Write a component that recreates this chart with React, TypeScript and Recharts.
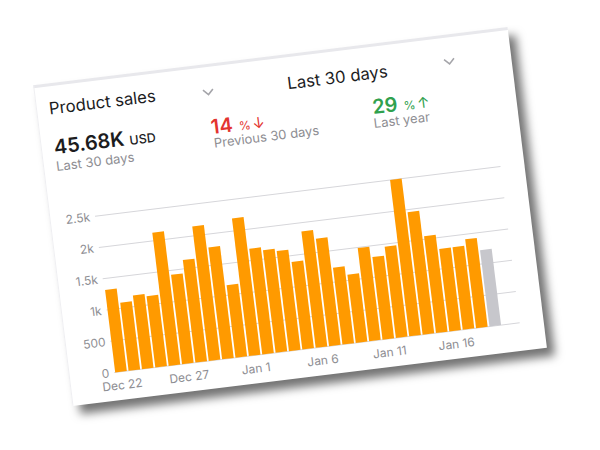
import React from 'react';
import { BarChart, Bar, XAxis, YAxis, CartesianGrid, Cell } from 'recharts';

// daily sales, Dec 22 - Jan 19 (last day is still in progress -> grey)
const days = [
  'Dec 22', 'Dec 23', 'Dec 24', 'Dec 25', 'Dec 26', 'Dec 27', 'Dec 28', 'Dec 29', 'Dec 30', 'Dec 31',
  'Jan 1', 'Jan 2', 'Jan 3', 'Jan 4', 'Jan 5', 'Jan 6', 'Jan 7', 'Jan 8', 'Jan 9', 'Jan 10',
  'Jan 11', 'Jan 12', 'Jan 13', 'Jan 14', 'Jan 15', 'Jan 16', 'Jan 17', 'Jan 18', 'Jan 19',
];
const sales = [
  1320, 1090, 1180, 1140, 2130, 1430, 1640, 2150, 1790, 1160,
  2200, 1690, 1640, 1600, 1400, 1860, 1720, 1230, 1090, 1490,
  1320, 1460, 2500, 1960, 1550, 1320, 1320, 1420, 1220,
];
const yTicks = [0, 500, 1000, 1500, 2000, 2500];
const yTickLabels = ['0', '500', '1k', '1.5k', '2k', '2.5k'];

const data = days.map((day, i) => ({ day, sales: sales[i] }));

const ORANGE = '#FF9A00';
const GREY_BAR = '#C7C7CC';
const GREY_TEXT = '#8E8E93';
const FONT = 'Inter, "Noto Sans", sans-serif';

const Chevron = ({ left, top }: { left: number; top: number }) => (
  <svg width={12} height={8} style={{ position: 'absolute', left, top }}>
    <polyline points="1,1.5 6,6.5 11,1.5" fill="none" stroke="#A5A5AA" strokeWidth={1.6} />
  </svg>
);

const App: React.FC = () => {
  const last = data.length - 1;

  return (
    <div style={{ position: 'fixed', left: 0, top: 0, width: 600, height: 450, background: '#fff', overflow: 'hidden' }}>
      <div
        style={{
          position: 'absolute',
          left: 51,
          top: 55,
          width: 478,
          height: 323,
          background: '#fff',
          transform: 'rotate(-7deg)',
          boxShadow: '7px 9px 10px rgba(0,0,0,0.55)',
          fontFamily: FONT,
          color: '#1C1C1E',
        }}
      >
        <div style={{ position: 'absolute', left: 0, top: 0, width: 478, height: 3, background: '#E8E8EC' }} />
        <div style={{ position: 'absolute', left: 0, top: 0, width: 1, height: 323, background: '#EFEFF2' }} />

        {/* header */}
        <div style={{ position: 'absolute', left: 13, top: 14.5, fontSize: 16.7, lineHeight: '20px' }}>Product sales</div>
        <Chevron left={167} top={23.5} />
        <div style={{ position: 'absolute', left: 203, top: 18.5, width: 200, textAlign: 'center', fontSize: 16.7, lineHeight: '20px' }}>
          Last 30 days
        </div>
        <Chevron left={410} top={22.5} />

        {/* stats */}
        <div style={{ position: 'absolute', left: 13, top: 52, lineHeight: '24px', whiteSpace: 'nowrap' }}>
          <span style={{ fontSize: 20, fontWeight: 600 }}>45.68K</span>
          <span style={{ fontSize: 12.5, fontWeight: 500, marginLeft: 5 }}>USD</span>
        </div>
        <div style={{ position: 'absolute', left: 13, top: 74.5, fontSize: 13, lineHeight: '16px', color: GREY_TEXT }}>Last 30 days</div>

        <div style={{ position: 'absolute', left: 171.5, top: 50.5, lineHeight: '24px', color: '#E3342F', whiteSpace: 'nowrap' }}>
          <span style={{ fontSize: 20, fontWeight: 600 }}>14</span>
          <span style={{ fontSize: 12, marginLeft: 6 }}>%</span>
          <span style={{ fontSize: 15, marginLeft: 2 }}>↓</span>
        </div>
        <div style={{ position: 'absolute', left: 172.5, top: 70.5, fontSize: 13, lineHeight: '16px', color: GREY_TEXT }}>Previous 30 days</div>

        <div style={{ position: 'absolute', left: 334, top: 50.5, lineHeight: '24px', color: '#30A14E', whiteSpace: 'nowrap' }}>
          <span style={{ fontSize: 20, fontWeight: 600 }}>29</span>
          <span style={{ fontSize: 12, marginLeft: 6 }}>%</span>
          <span style={{ fontSize: 15, marginLeft: 2 }}>↑</span>
        </div>
        <div style={{ position: 'absolute', left: 333.5, top: 71, fontSize: 13, lineHeight: '16px', color: GREY_TEXT }}>Last year</div>

        {/* chart */}
        <div style={{ position: 'absolute', left: 0, top: 120 }}>
          <BarChart width={478} height={203} data={data} margin={{ top: 17.5, right: 24, left: 0, bottom: 0 }}>
            <CartesianGrid vertical={false} stroke="#D6D6DA" />
            <XAxis
              dataKey="day"
              interval={4}
              height={28}
              tickLine={false}
              axisLine={false}
              tickSize={0}
              tickMargin={9}
              padding={{ left: 0, right: 18 }}
              tick={{ fill: GREY_TEXT, fontSize: 12, fontFamily: FONT }}
            />
            <YAxis
              width={45.5}
              domain={[0, 2500]}
              ticks={yTicks}
              tickFormatter={(v: number) => yTickLabels[yTicks.indexOf(v)]}
              tickLine={false}
              axisLine={false}
              tickSize={0}
              tickMargin={5}
              tick={{ fill: GREY_TEXT, fontSize: 12, fontFamily: FONT }}
            />
            <Bar dataKey="sales" barSize={11.7} isAnimationActive={false}>
              {data.map((d, i) => (
                <Cell key={d.day} fill={i === last ? GREY_BAR : ORANGE} />
              ))}
            </Bar>
          </BarChart>
        </div>
      </div>
    </div>
  );
};

export default App;
